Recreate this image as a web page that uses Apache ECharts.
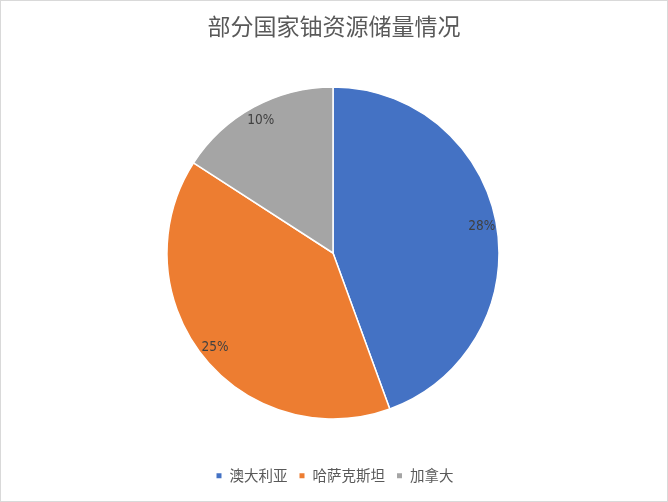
<!DOCTYPE html>
<html>
<head>
<meta charset="utf-8">
<script src="https://cdn.jsdelivr.net/npm/echarts@6/dist/echarts.min.js"></script>
<style>
html,body{margin:0;padding:0;background:#fff;}
#c{width:668px;height:502px;box-sizing:border-box;border:1px solid #d9d9d9;}
</style>
</head>
<body>
<div id="c"></div>
<script>
const categories = ['澳大利亚', '哈萨克斯坦', '加拿大'];
const values = [28, 25, 10];
const colors = ['#4472C4', '#ED7D31', '#A5A5A5'];
const titleText = '部分国家铀资源储量情况';

const font = '"Noto Sans CJK SC", "Microsoft YaHei", sans-serif';
const numFont = '"Liberation Sans Narrow", "DejaVu Sans Condensed", "Noto Sans", sans-serif';
const pieData = categories.map((n, i) => ({ name: n, value: values[i], itemStyle: { color: colors[i] } }));
const labelData = categories.map((n, i) => ({ name: n, value: values[i] }));

const chart = echarts.init(document.getElementById('c'));
chart.setOption({
  animation: false,
  title: {
    text: titleText,
    left: 'center',
    top: 9,
    textStyle: { fontFamily: font, fontSize: 23, fontWeight: 'normal', color: '#595959' }
  },
  legend: {
    data: categories,
    bottom: 13,
    left: 'center',
    icon: 'rect',
    itemWidth: 7,
    itemHeight: 7,
    itemGap: 10,
    textStyle: { fontFamily: font, fontSize: 14.5, color: '#595959', padding: [0, 0, 0, 2] }
  },
  series: [
    {
      type: 'pie',
      center: [332, 252],
      radius: [0, 166],
      startAngle: 90,
      clockwise: true,
      label: { show: false },
      labelLine: { show: false },
      itemStyle: { borderColor: '#fff', borderWidth: 1.5 },
      emphasis: { disabled: true },
      data: pieData
    },
    {
      type: 'pie',
      center: [332, 252],
      radius: [130, 166],
      startAngle: 90,
      clockwise: true,
      silent: true,
      itemStyle: { color: 'rgba(0,0,0,0)' },
      label: {
        show: true,
        position: 'inside',
        formatter: p => p.value + '%',
        fontFamily: numFont,
        fontSize: 13.5,
        color: '#404040'
      },
      labelLine: { show: false },
      emphasis: { disabled: true },
      data: labelData
    }
  ]
});
</script>
</body>
</html>
